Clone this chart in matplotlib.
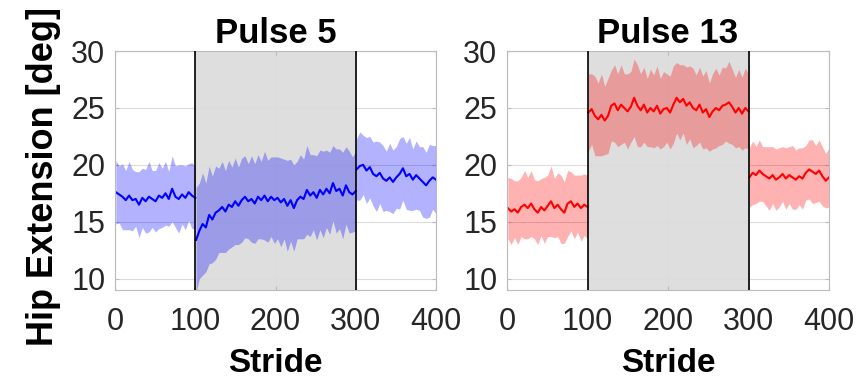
import numpy as np
import matplotlib.pyplot as plt

plt.rcParams['font.family'] = ['Liberation Sans', 'DejaVu Sans']

# stride blocks: baseline 1-100, pulse 101-300, post 301-400
base_x = np.linspace(1, 100, 25)
pulse_x = np.linspace(101, 300, 50)
post_x = np.linspace(301, 400, 25)

# Pulse 5 (blue) - mean and sd per block
p5_mean = [17.6, 17.4, 17.2, 16.9, 17.3, 16.9, 17.0, 16.5, 17.1, 16.8, 17.2, 17.0, 16.8,
           17.3, 17.1, 17.5, 17.0, 17.9, 17.2, 17.0, 17.4, 17.1, 17.6, 17.3, 17.1,
           13.4, 14.2, 14.8, 14.5, 15.6, 15.2, 15.8, 16.0, 16.3, 15.9,
           16.5, 16.3, 16.8, 16.4, 16.9, 17.2, 16.8, 17.0, 16.6, 17.2,
           16.9, 17.3, 16.8, 17.2, 16.9, 17.1, 16.7, 17.0, 16.4, 16.9,
           16.2, 16.9, 17.2, 17.0, 17.8, 17.3, 17.6, 17.1, 17.8, 17.4,
           17.9, 17.5, 18.4, 17.7, 17.9, 17.3, 18.2, 17.6, 17.4, 17.7,
           19.6, 19.9, 20.0, 19.5, 19.8, 19.2, 19.0, 19.3, 18.8, 18.6, 18.9, 18.5, 18.9,
           19.2, 19.7, 19.0, 19.2, 18.7, 19.1, 18.8, 18.5, 18.2, 18.6, 18.9, 18.7]
p5_sd = [2.8, 2.5, 2.9, 2.6, 3.0, 2.7, 2.4, 2.9, 2.6, 2.8, 3.1, 2.5, 2.7, 2.9, 2.6, 2.8,
         2.4, 2.9, 2.7, 3.0, 2.6, 2.8, 2.5, 2.9, 2.7,
         4.6, 4.2, 4.5, 3.9, 4.3, 3.8, 4.1, 3.7, 4.0, 3.6,
         3.9, 3.5, 3.8, 3.4, 3.7, 3.6, 3.3, 3.8, 3.5, 3.7,
         3.4, 3.9, 3.6, 3.5, 3.8, 3.6, 3.9, 3.5, 4.0, 3.6,
         3.8, 3.4, 3.7, 3.5, 3.9, 3.6, 3.3, 3.7, 3.5, 3.8,
         3.4, 3.6, 3.3, 3.7, 3.5, 3.8, 3.4, 3.6, 3.3, 3.5,
         2.7, 3.0, 2.6, 2.9, 2.7, 2.8, 3.1, 2.7, 2.9, 2.6, 3.0, 2.8, 2.7, 3.1, 2.8, 2.9,
         3.2, 2.7, 3.0, 2.8, 3.1, 2.9, 3.2, 2.8, 3.0]

# Pulse 13 (red)
p13_mean = [16.2, 15.9, 16.1, 15.8, 16.3, 16.5, 16.2, 16.6, 16.1, 15.8, 16.3, 16.0, 16.4,
            16.8, 16.2, 16.5, 16.1, 15.8, 16.6, 16.8, 16.3, 16.6, 16.2, 16.5, 16.3,
            24.6, 24.9, 24.3, 24.0, 24.4, 23.9, 24.3, 25.2, 25.4, 24.8,
            25.3, 25.0, 24.7, 25.1, 25.9, 25.2, 24.8, 25.3, 24.6, 25.0,
            24.7, 25.2, 24.5, 24.9, 25.0, 24.6, 25.3, 25.9, 25.5, 25.8,
            25.2, 25.5, 25.0, 24.8, 25.3, 24.6, 24.9, 24.2, 24.7, 25.0,
            24.8, 25.2, 25.3, 25.5, 25.1, 24.6, 25.0, 24.5, 25.0, 24.7,
            18.9, 19.3, 19.1, 19.5, 19.2, 19.0, 18.8, 19.1, 18.7, 18.9, 19.2, 18.8, 19.1,
            18.9, 18.7, 19.0, 18.8, 19.3, 19.6, 19.4, 19.2, 19.5, 19.0, 18.6, 18.9]
p13_sd = [2.7, 2.9, 2.5, 2.8, 2.6, 3.0, 2.7, 2.9, 2.6, 2.8, 2.5, 2.9, 2.7, 3.1, 2.6, 2.8,
          3.0, 2.7, 2.9, 2.6, 2.8, 2.5, 2.9, 2.7, 2.8,
          3.4, 3.1, 3.5, 3.2, 3.6, 3.0, 3.3, 3.1, 3.4, 3.2,
          3.5, 3.0, 3.3, 3.1, 3.4, 3.6, 3.2, 3.3, 3.0, 3.4,
          3.2, 3.5, 3.1, 3.3, 3.0, 3.2, 3.4, 3.1, 3.3, 3.0,
          3.4, 3.2, 3.5, 3.1, 3.3, 3.2, 3.4, 3.0, 3.3, 3.5,
          3.1, 3.4, 3.2, 3.6, 3.3, 3.1, 3.4, 3.2, 3.5, 3.3,
          2.6, 2.8, 2.5, 2.7, 2.4, 2.6, 2.8, 2.5, 2.7, 2.6, 2.4, 2.7, 2.5, 2.8, 2.6, 2.5,
          2.7, 2.4, 2.6, 2.8, 2.5, 2.7, 2.6, 2.4, 2.6]

titles = ['Pulse 5', 'Pulse 13']
colors = ['#0000ff', '#ff0000']
pulse_on, pulse_off = 100, 300

fig = plt.figure(figsize=(8.61, 3.78), dpi=100)
ax1 = fig.add_axes([0.1336, 0.2328, 0.3728, 0.632])
ax2 = fig.add_axes([0.5889, 0.2328, 0.3740, 0.632])

for ax, mean, sd, title, c in zip([ax1, ax2], [p5_mean, p13_mean], [p5_sd, p13_sd],
                                   titles, colors):
    mean = np.array(mean)
    sd = np.array(sd)
    ax.axvspan(pulse_on, pulse_off, color='#dedede', lw=0, zorder=0.2)
    ax.grid(True, color='#dcdcdc', lw=0.8)
    ax.set_axisbelow(True)
    segs = [(base_x, slice(0, 25)), (pulse_x, slice(25, 75)), (post_x, slice(75, 100))]
    for xs, sl in segs:
        ax.fill_between(xs, mean[sl] - sd[sl], mean[sl] + sd[sl], color=c, alpha=0.3,
                        lw=0, zorder=1)
        ax.plot(xs, mean[sl], color=c, lw=1.5, zorder=2)
    ax.axvline(pulse_on, color='k', lw=1.2, zorder=3)
    ax.axvline(pulse_off, color='k', lw=1.2, zorder=3)
    ax.set_xlim(0, 400)
    ax.set_ylim(9, 30)
    ax.set_xticks([0, 100, 200, 300, 400])
    ax.set_yticks([10, 15, 20, 25, 30])
    ax.tick_params(direction='in', length=3, labelsize=22, colors='#bbbbbb',
                   labelcolor='#262626', top=True, right=True)
    ax.tick_params(axis='x', pad=12)
    ax.tick_params(axis='y', pad=7)
    for s in ax.spines.values():
        s.set_color('#bbbbbb')
    ax.set_title(title, fontsize=25, fontweight='bold', pad=6)
    ax.set_xlabel('Stride', fontsize=24, fontweight='bold', labelpad=8)

ax1.set_ylabel('Hip Extension [deg]', fontsize=26, fontweight='bold')
ax1.yaxis.set_label_coords(-0.168, 0.477)

fig.savefig('out.png', dpi=100)
